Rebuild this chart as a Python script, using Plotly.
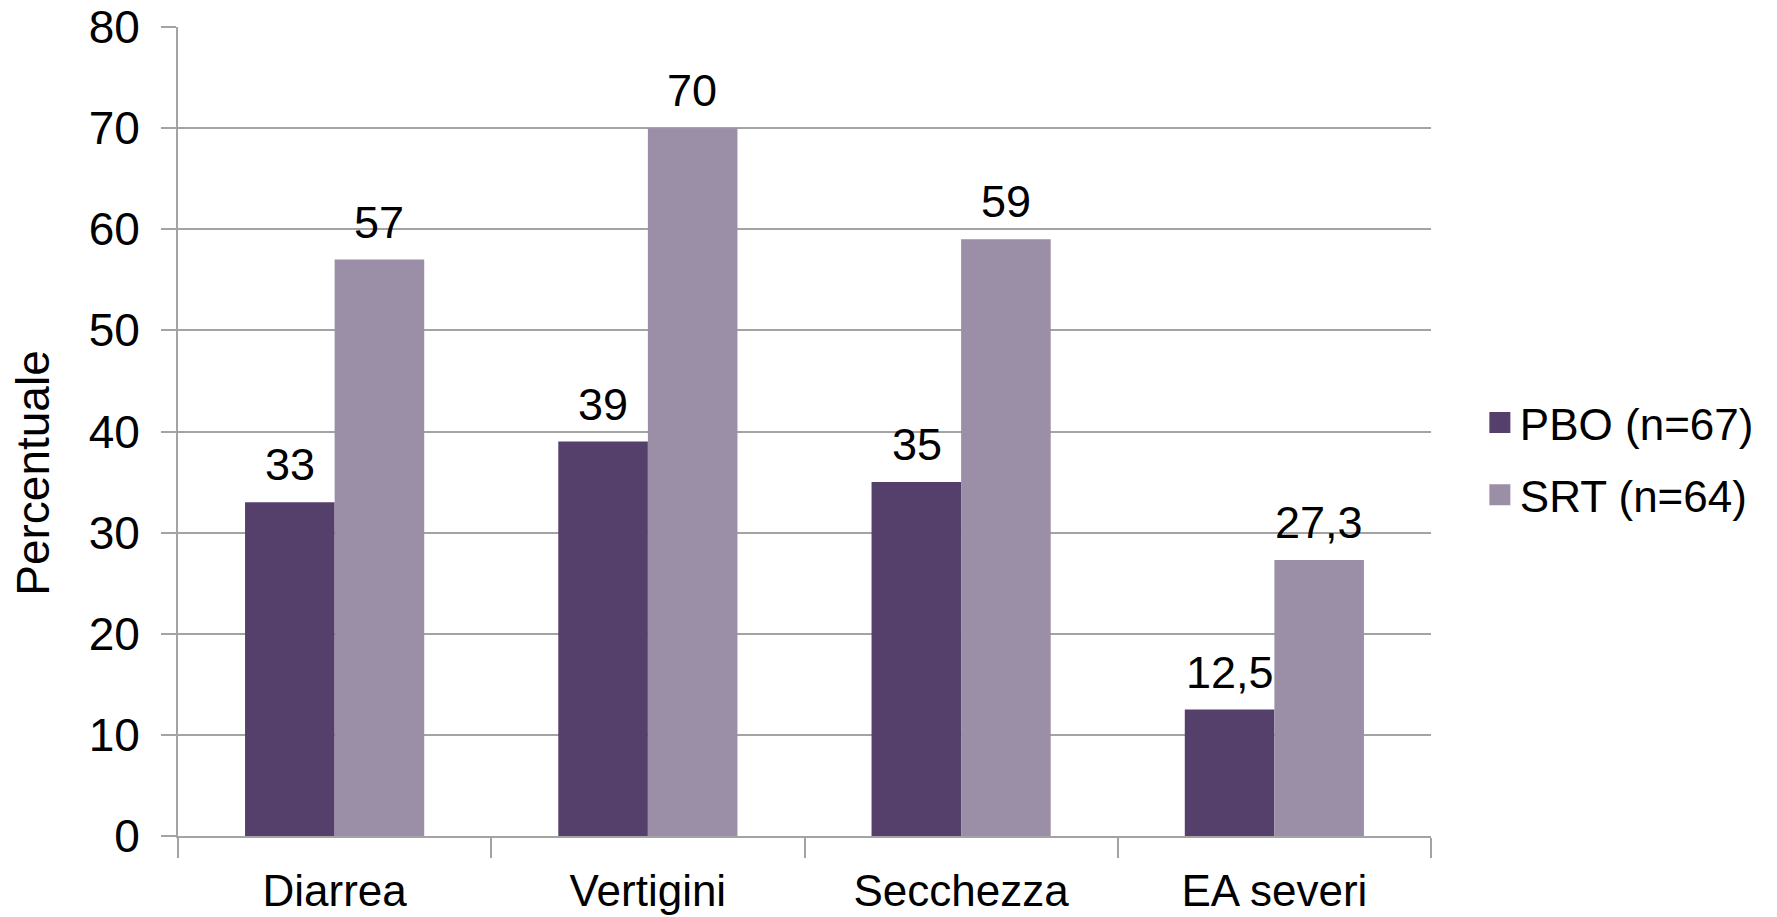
import plotly.graph_objects as go

categories = ["Diarrea", "Vertigini", "Secchezza", "EA severi"]
pbo_values = [33, 39, 35, 12.5]
srt_values = [57, 70, 59, 27.3]
series_names = ["PBO (n=67)", "SRT (n=64)"]
y_ticks = [0, 10, 20, 30, 40, 50, 60, 70, 80]
y_title = "Percentuale"

DARK = "#553F6B"
LIGHT = "#9A8FA6"
GRID = "#A3A3A3"
SANS = "Liberation Sans, Arial, sans-serif"


def fmt(v):
    s = f"{v:g}"
    return s.replace(".", ",")


fig = go.Figure()
for name, vals, col in [(series_names[0], pbo_values, DARK), (series_names[1], srt_values, LIGHT)]:
    fig.add_trace(go.Bar(x=categories, y=vals, name=name, marker=dict(color=col, line=dict(width=0)),
                         showlegend=False, hoverinfo="x+y"))
    # legend proxy with larger square symbol
    fig.add_trace(go.Scatter(x=[None], y=[None], mode="markers", name=name, legendgroup=name,
                             marker=dict(symbol="square", size=16, color=col, line=dict(width=5, color=col)),
                             showlegend=True))

annotations = []
BAR_HALF = 44.5
for vals, sh in [(pbo_values, -BAR_HALF), (srt_values, BAR_HALF)]:
    for c, v in zip(categories, vals):
        annotations.append(dict(x=c, y=v, xref="x", yref="y", text=fmt(v), showarrow=False,
                                xanchor="center", yanchor="bottom", xshift=sh, yshift=10,
                                font=dict(family=SANS, size=45, color="black")))

annotations.append(dict(text=y_title, xref="paper", yref="paper", x=-0.1157, y=0.449,
                        xanchor="center", yanchor="middle", textangle=-90, showarrow=False,
                        font=dict(family=SANS, size=46, color="black")))

fig.update_layout(
    width=1777, height=917,
    margin=dict(l=178, r=346, t=27, b=81, pad=0),
    paper_bgcolor="white", plot_bgcolor="white",
    barmode="group", bargap=0.428, bargroupgap=0,
    annotations=annotations,
    legend=dict(x=1.039, y=0.466, xanchor="left", yanchor="middle",
                font=dict(family=SANS, size=44, color="black"),
                tracegroupgap=12, itemsizing="trace", bgcolor="rgba(0,0,0,0)"),
    showlegend=True,
)
fig.update_xaxes(
    type="category", showline=True, linecolor=GRID, linewidth=2, automargin=False,
    ticks="outside", tickson="boundaries", ticklen=20, tickcolor=GRID, tickwidth=2,
    showgrid=False, mirror=False,
    tickfont=dict(family=SANS, size=44, color="black"), ticklabelstandoff=15,
)
fig.update_yaxes(
    range=[0, 80], tickvals=y_ticks, showline=True, linecolor=GRID, linewidth=2, automargin=False,
    ticks="outside", ticklen=15, tickcolor=GRID, tickwidth=2,
    showgrid=True, gridcolor=GRID, gridwidth=2, zeroline=False,
    tickfont=dict(family=SANS, size=46, color="black"), ticklabelstandoff=12,
)

fig.write_html("out.html")
